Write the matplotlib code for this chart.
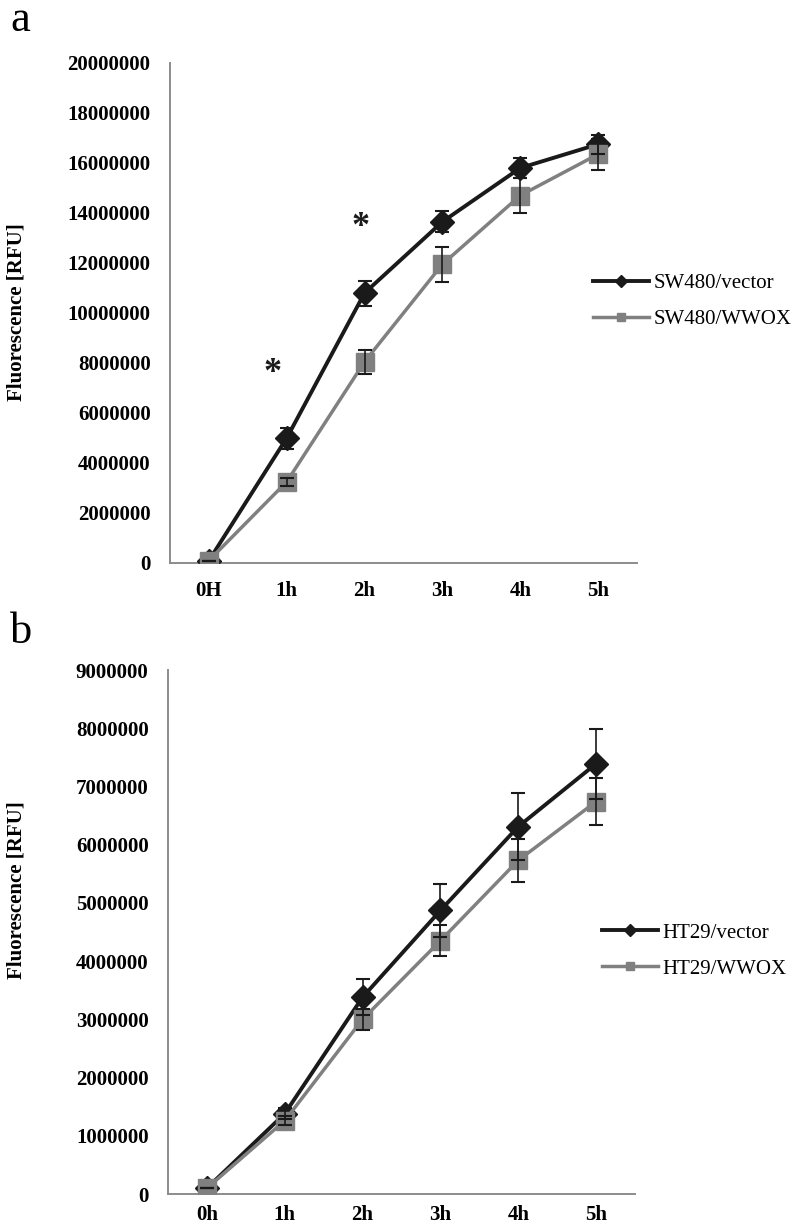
import matplotlib
matplotlib.use("Agg")
import matplotlib.pyplot as plt

plt.rcParams["font.family"] = ["Liberation Serif", "DejaVu Serif"]

# panel a: SW480
a_labels = ["0H", "1h", "2h", "3h", "4h", "5h"]
a_vector = [100000, 5000000, 10800000, 13650000, 15800000, 16750000]
a_vector_err = [0, 420000, 500000, 420000, 400000, 380000]
a_wwox = [100000, 3250000, 8050000, 11950000, 14700000, 16350000]
a_wwox_err = [0, 150000, 470000, 700000, 700000, 620000]
a_names = ["SW480/vector", "SW480/WWOX"]
a_stars = [(0.82, 7600000), (1.95, 13400000)]
a_yticks = list(range(0, 20000001, 2000000))

# panel b: HT29
b_labels = ["0h", "1h", "2h", "3h", "4h", "5h"]
b_vector = [100000, 1380000, 3380000, 4870000, 6310000, 7390000]
b_vector_err = [0, 100000, 310000, 450000, 570000, 600000]
b_wwox = [100000, 1260000, 3000000, 4350000, 5730000, 6740000]
b_wwox_err = [0, 80000, 180000, 270000, 370000, 410000]
b_names = ["HT29/vector", "HT29/WWOX"]
b_yticks = list(range(0, 9000001, 1000000))

BLACK = "#1a1a1a"
GREY = "#808080"
AXC = "#8c8c8c"
FS = 15


def panel(ax, labels, vec, vec_err, wwox, wwox_err, names, yticks, leg_anchor, xpad):
    x = list(range(len(labels)))
    ax.plot(x, vec, color=BLACK, lw=2.8, marker="D", ms=12, zorder=3, label=names[0])
    ax.plot(x, wwox, color=GREY, lw=2.5, marker="s", ms=12.5, zorder=4, label=names[1])
    ax.errorbar(x, vec, yerr=vec_err, fmt="none", ecolor=BLACK, elinewidth=1.2,
                capsize=5, capthick=1.5, zorder=5)
    ax.errorbar(x, wwox, yerr=wwox_err, fmt="none", ecolor=BLACK, elinewidth=1.2,
                capsize=5, capthick=1.5, zorder=5)
    ax.set_xlim(-0.5, len(labels) - 0.5)
    ax.set_ylim(yticks[0], yticks[-1])
    ax.set_xticks(x)
    ax.set_xticklabels(labels, fontsize=FS, fontweight="bold")
    ax.set_yticks(yticks)
    ax.set_yticklabels([str(v) for v in yticks], fontsize=FS, fontweight="bold")
    ax.tick_params(length=0)
    ax.tick_params(axis="y", pad=14)
    ax.tick_params(axis="x", pad=xpad)
    for s in ["top", "right"]:
        ax.spines[s].set_visible(False)
    for s in ["left", "bottom"]:
        ax.spines[s].set_color(AXC)
        ax.spines[s].set_linewidth(1.4)
    leg = ax.legend(loc="center left", bbox_to_anchor=leg_anchor, frameon=False,
                    fontsize=FS, handlelength=2.7, handletextpad=0.2,
                    labelspacing=0.8, borderpad=0, borderaxespad=0,
                    markerscale=0.5)
    return leg


fig = plt.figure(figsize=(7.92, 12.3), dpi=100)
ax_a = fig.add_axes([170 / 792, 667 / 1230, 467 / 792, 500 / 1230])
ax_b = fig.add_axes([168 / 792, 36 / 1230, 467 / 792, 524 / 1230])

panel(ax_a, a_labels, a_vector, a_vector_err, a_wwox, a_wwox_err, a_names,
      a_yticks, (0.906, 0.523), 13)
panel(ax_b, b_labels, b_vector, b_vector_err, b_wwox, b_wwox_err, b_names,
      b_yticks, (0.929, 0.464), 8)

for sx, sy in a_stars:
    ax_a.text(sx, sy, "*", fontsize=26, fontweight="bold", ha="center",
              va="center", color=BLACK)

fig.text(17 / 792, 1 - 312 / 1230, "Fluorescence [RFU]", rotation=90,
         fontsize=FS, fontweight="bold", ha="center", va="center")
fig.text(17 / 792, 1 - 890 / 1230, "Fluorescence [RFU]", rotation=90,
         fontsize=FS, fontweight="bold", ha="center", va="center")

fig.text(10 / 792, 1 - 0 / 1230, "a", fontsize=32, ha="left", va="top")
fig.text(10 / 792, 1 - 612 / 1230, "b", fontsize=32, ha="left", va="top")

fig.savefig("out.png", dpi=100)
